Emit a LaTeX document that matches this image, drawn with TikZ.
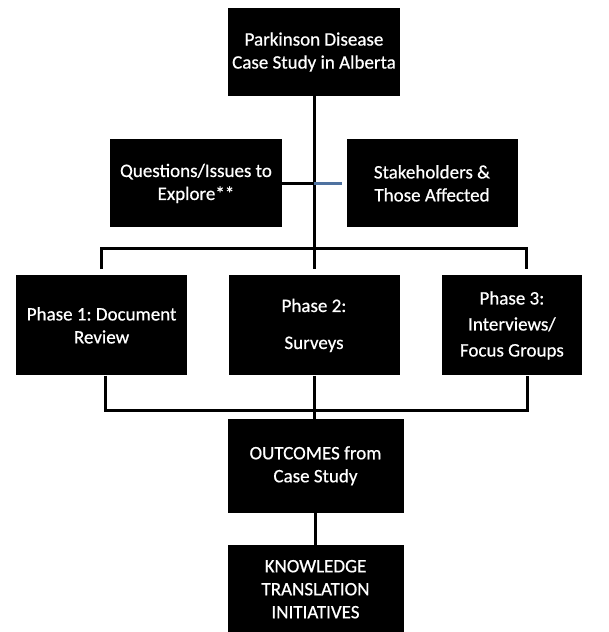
\documentclass[tikz,border=0pt]{standalone}
\usepackage{fontspec}
\setmainfont{Carlito}[FakeBold=0.6]
\usepackage{tikz}
\usetikzlibrary{positioning}
\definecolor{linkblue}{RGB}{79,114,160}
\frenchspacing

\begin{document}
\begin{tikzpicture}[
    box/.style={fill=black, text=white, align=center, inner sep=0pt,
      minimum width=172pt, minimum height=88pt,
      font=\fontsize{19}{23}\selectfont},
    link/.style={line width=3pt}
  ]
    \useasboundingbox (0,0) rectangle (608pt,-632pt);

    % Nodes
    \node[box] (title) at (314pt,-52pt) {Parkinson Disease\\Case Study in Alberta};
    \node[box, below=43pt of title, xshift=-118pt] (quest) {Questions/Issues to\\Explore**};
    \node[box, below=43pt of title, xshift=118pt, minimum width=171pt] (stake) {Stakeholders \&\\Those Affected};
    \node[box, below=179pt of title, minimum width=171pt, minimum height=100pt] (phase2) {Phase 2:\\[14pt]Surveys};
    \node[box, left=41pt of phase2, minimum width=171pt, minimum height=100pt] (phase1) {Phase 1: Document\\Review};
    \node[box, right=42pt of phase2, minimum width=140pt, minimum height=100pt] (phase3) {Phase 3:\\[3pt]Interviews/\\[3pt]Focus Groups};
    \node[box, below=43pt of phase2, xshift=1.5pt, minimum width=176pt, minimum height=94pt] (outcomes) {OUTCOMES from\\Case Study};
    \node[box, below=32pt of outcomes, minimum width=176pt] (kt) {KNOWLEDGE\\TRANSLATION\\INITIATIVES};

    \coordinate[below=152pt of title.south] (split);
    \coordinate[below=35pt of phase2.south] (merge);

    % Edges
    \draw[link] (title) -- ([yshift=6pt]phase2.north);
    \draw[link] (quest.east) -- (quest.east -| title);
    \draw[link, linkblue] (quest.east -| title) -- ([xshift=-4pt]stake.west);
    \draw[link] ([yshift=6pt]phase1.north) |- ([xshift=15pt]phase3.north |- split)
      -- ([xshift=15pt, yshift=6pt]phase3.north);
    \draw[link] ([xshift=4pt]phase1.south) |- ([xshift=16pt]phase3.south |- merge)
      -- ([xshift=16pt]phase3.south);
    \draw[link] (phase2) -- (merge -| phase2) -- (outcomes.north -| phase2);
    \draw[link] (outcomes) -- (kt);
\end{tikzpicture}
\end{document}
